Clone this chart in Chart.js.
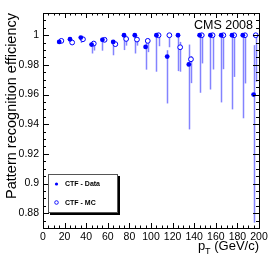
<!DOCTYPE html>
<html>
<head>
<meta charset="utf-8">
<script src="https://cdn.jsdelivr.net/npm/chart.js@4.4.0/dist/chart.umd.min.js"></script>
<style>
  html, body { margin: 0; padding: 0; background: #fff; }
  #wrap { width: 273px; height: 262px; }
</style>
</head>
<body>
<div id="wrap"><canvas id="effChart" width="273" height="262"></canvas></div>
<script>
// pT bin centres (data and MC are drawn slightly shifted, as in the original)
var ptData = [15, 25, 35, 45, 55, 65, 75, 85, 95, 105, 115, 125, 135, 145, 155, 165, 175, 185, 195];
var ptMC   = [17, 27, 37, 47, 57, 67, 77, 87, 97, 107, 117, 127, 137, 147, 157, 167, 177, 187, 197];

// CTF - Data efficiency with lower / upper error bounds
var effData  = [0.9955, 0.9973, 0.9984, 0.9937, 0.9969, 0.9955, 1, 1, 0.9921, 1, 0.9856, 1, 0.9803, 1, 1, 1, 1, 1, 0.96];
var lowData  = [0.9948, 0.9965, 0.9948, 0.9877, 0.9896, 0.9865, 0.990, 0.9877, 0.9768, 0.9754, 0.954, 0.9758, 0.9365, 0.9612, 0.9634, 0.9547, 0.950, 0.944, 0.8736];
var highData = [0.9966, 0.9982, 0.9990, 0.9955, 0.9986, 0.9966, 1, 1, 0.9955, 1, 0.9899, 1, 0.9937, 1, 1, 1, 1, 1, 0.9933];

// CTF - MC efficiency with lower / upper error bounds
var effMC  = [0.9962, 0.9951, 0.9973, 0.9944, 0.9969, 0.9940, 0.9975, 0.9971, 0.9962, 1, 1, 0.9919, 0.9838, 1, 1, 1, 1, 1, 1];
var lowMC  = [0.9955, 0.9945, 0.9962, 0.9897, 0.9955, 0.9925, 0.9930, 0.9930, 0.9886, 0.9926, 0.9919, 0.9754, 0.9677, 0.9810, 0.9769, 0.9771, 0.9719, 0.9675, 0.9686];
var highMC = [0.9970, 0.9966, 0.9986, 0.9955, 0.9986, 0.9955, 0.9985, 0.9985, 0.9978, 1, 1, 0.9955, 0.9860, 1, 1, 1, 1, 1, 1];

var seriesLabels = ["CTF - Data", "CTF - MC"];
var xTicks = [0, 20, 40, 60, 80, 100, 120, 140, 160, 180, 200];
var yTicks = [0.88, 0.9, 0.92, 0.94, 0.96, 0.98, 1];
var yTitle = "Pattern recognition efficiency";
var xTitleMain = "p", xTitleSub = "T", xTitleRest = " (GeV/c)";
var stampText = "CMS 2008";

var blue = "#0000ff";
var errColor = "rgba(100,100,255,0.8)";
var fontName = "'Liberation Sans', Arial, sans-serif";

function points(xs, ys) {
    var out = [];
    for (var i = 0; i < xs.length; i++) out.push({x: xs[i], y: ys[i]});
    return out;
}

var errorBars = {
    id: "errorBars",
    beforeDatasetsDraw: function(chart) {
        var ctx = chart.ctx, xs = chart.scales.x, ys = chart.scales.y;
        var sets = [[ptData, lowData, highData], [ptMC, lowMC, highMC]];
        ctx.save();
        ctx.beginPath();
        ctx.rect(chart.chartArea.left, chart.chartArea.top, chart.chartArea.width, chart.chartArea.height);
        ctx.clip();
        ctx.strokeStyle = errColor;
        ctx.lineWidth = 1.5;
        sets.forEach(function(s) {
            for (var i = 0; i < s[0].length; i++) {
                var px = Math.round(xs.getPixelForValue(s[0][i])) + 0.5;
                ctx.beginPath();
                ctx.moveTo(px, ys.getPixelForValue(s[1][i]));
                ctx.lineTo(px, ys.getPixelForValue(s[2][i]));
                ctx.stroke();
            }
        });
        ctx.restore();
    }
};

var frame = {
    id: "frame",
    afterDraw: function(chart) {
        var ctx = chart.ctx, a = chart.chartArea, xs = chart.scales.x, ys = chart.scales.y;
        ctx.save();
        ctx.strokeStyle = "#000";
        ctx.lineWidth = 1;
        ctx.strokeRect(Math.round(a.left) + 0.5, Math.round(a.top) + 0.5, Math.round(a.width), Math.round(a.height));

        // ROOT style tick marks on all four sides, pointing inwards
        ctx.beginPath();
        for (var v = 0; v <= 200; v += 5) {
            var px = Math.round(xs.getPixelForValue(v)) + 0.5;
            var len = (v % 20 === 0) ? 5 : 2.5;
            ctx.moveTo(px, a.bottom); ctx.lineTo(px, a.bottom - len);
            ctx.moveTo(px, a.top); ctx.lineTo(px, a.top + len);
        }
        for (var k = 0; k <= 29; k++) {
            var val = 0.87 + k * 0.005;
            var py = Math.round(ys.getPixelForValue(val)) + 0.5;
            var major = Math.abs(Math.round(val / 0.02) * 0.02 - val) < 1e-6;
            var l2 = major ? 6 : 3;
            ctx.moveTo(a.left, py); ctx.lineTo(a.left + l2, py);
            ctx.moveTo(a.right, py); ctx.lineTo(a.right - l2, py);
        }
        ctx.stroke();

        // CMS stamp
        ctx.fillStyle = "#000";
        ctx.font = "12.5px " + fontName;
        ctx.textAlign = "right";
        ctx.textBaseline = "alphabetic";
        ctx.fillText(stampText, a.right - 6, a.top + 16);

        // y title
        ctx.save();
        ctx.translate(15.5, a.top);
        ctx.rotate(-Math.PI / 2);
        ctx.font = "14.5px " + fontName;
        ctx.textAlign = "right";
        ctx.fillText(yTitle, 0, 0);
        ctx.restore();

        // x title with subscript
        ctx.font = "13px " + fontName;
        var wMain = ctx.measureText(xTitleMain).width;
        var wRest = ctx.measureText(xTitleRest).width;
        ctx.font = "9px " + fontName;
        var wSub = ctx.measureText(xTitleSub).width;
        var xEnd = a.right, base = 250;
        ctx.textAlign = "left";
        ctx.font = "13px " + fontName;
        ctx.fillText(xTitleRest, xEnd - wRest, base);
        ctx.fillText(xTitleMain, xEnd - wRest - wSub - wMain, base);
        ctx.font = "9px " + fontName;
        ctx.fillText(xTitleSub, xEnd - wRest - wSub, base + 4);

        // legend box with shadow
        var lx = 48, ly = 174, lw = 69, lh = 38;
        ctx.fillStyle = "#000";
        ctx.fillRect(lx + 2, ly + 2, lw + 1, lh + 1);
        ctx.fillStyle = "#fff";
        ctx.fillRect(lx, ly, lw, lh);
        ctx.strokeStyle = "#555";
        ctx.strokeRect(lx + 0.5, ly + 0.5, lw, lh);
        var ds = chart.data.datasets;
        ctx.font = "bold 7px " + fontName;
        ctx.textBaseline = "middle";
        for (var j = 0; j < ds.length; j++) {
            var my = ly + 10 + j * 18.5;
            ctx.beginPath();
            ctx.arc(lx + 8.5, my, j === 0 ? 1.6 : 1.8, 0, Math.PI * 2);
            if (j === 0) { ctx.fillStyle = blue; ctx.fill(); }
            else { ctx.strokeStyle = blue; ctx.lineWidth = 0.9; ctx.stroke(); }
            ctx.fillStyle = "#000";
            ctx.fillText(ds[j].label, lx + 17, my + 0.5);
        }
        ctx.restore();
    }
};

var effChart = new Chart(document.getElementById("effChart").getContext("2d"), {
    type: "scatter",
    data: {
        datasets: [
            {
                label: seriesLabels[0],
                data: points(ptData, effData),
                backgroundColor: blue,
                borderColor: blue,
                pointRadius: 2.4,
                borderWidth: 0
            },
            {
                label: seriesLabels[1],
                data: points(ptMC, effMC),
                backgroundColor: "#ffffff",
                borderColor: blue,
                pointRadius: 2.4,
                borderWidth: 1
            }
        ]
    },
    options: {
        responsive: false,
        animation: false,
        devicePixelRatio: 1,
        layout: { padding: { left: 0, top: 13, right: 14, bottom: 0 } },
        plugins: { legend: { display: false }, tooltip: { enabled: false } },
        scales: {
            x: {
                type: "linear",
                min: 0,
                max: 200,
                afterFit: function(s) { s.height = 34; },
                afterBuildTicks: function(s) { s.ticks = xTicks.map(function(v) { return {value: v}; }); },
                grid: { display: false, drawTicks: false },
                border: { display: false },
                ticks: {
                    padding: 3,
                    maxRotation: 0,
                    autoSkip: false,
                    color: "#000",
                    font: { family: fontName, size: 10.5 },
                    callback: function(v) { return String(v); }
                }
            },
            y: {
                type: "linear",
                min: 0.87,
                max: 1.015,
                afterFit: function(s) { s.width = 43; },
                afterBuildTicks: function(s) { s.ticks = yTicks.map(function(v) { return {value: v}; }); },
                grid: { display: false, drawTicks: false },
                border: { display: false },
                ticks: {
                    padding: 4,
                    autoSkip: false,
                    color: "#000",
                    font: { family: fontName, size: 10.5 },
                    callback: function(v) { return String(v); }
                }
            }
        }
    },
    plugins: [errorBars, frame]
});
</script>
</body>
</html>
